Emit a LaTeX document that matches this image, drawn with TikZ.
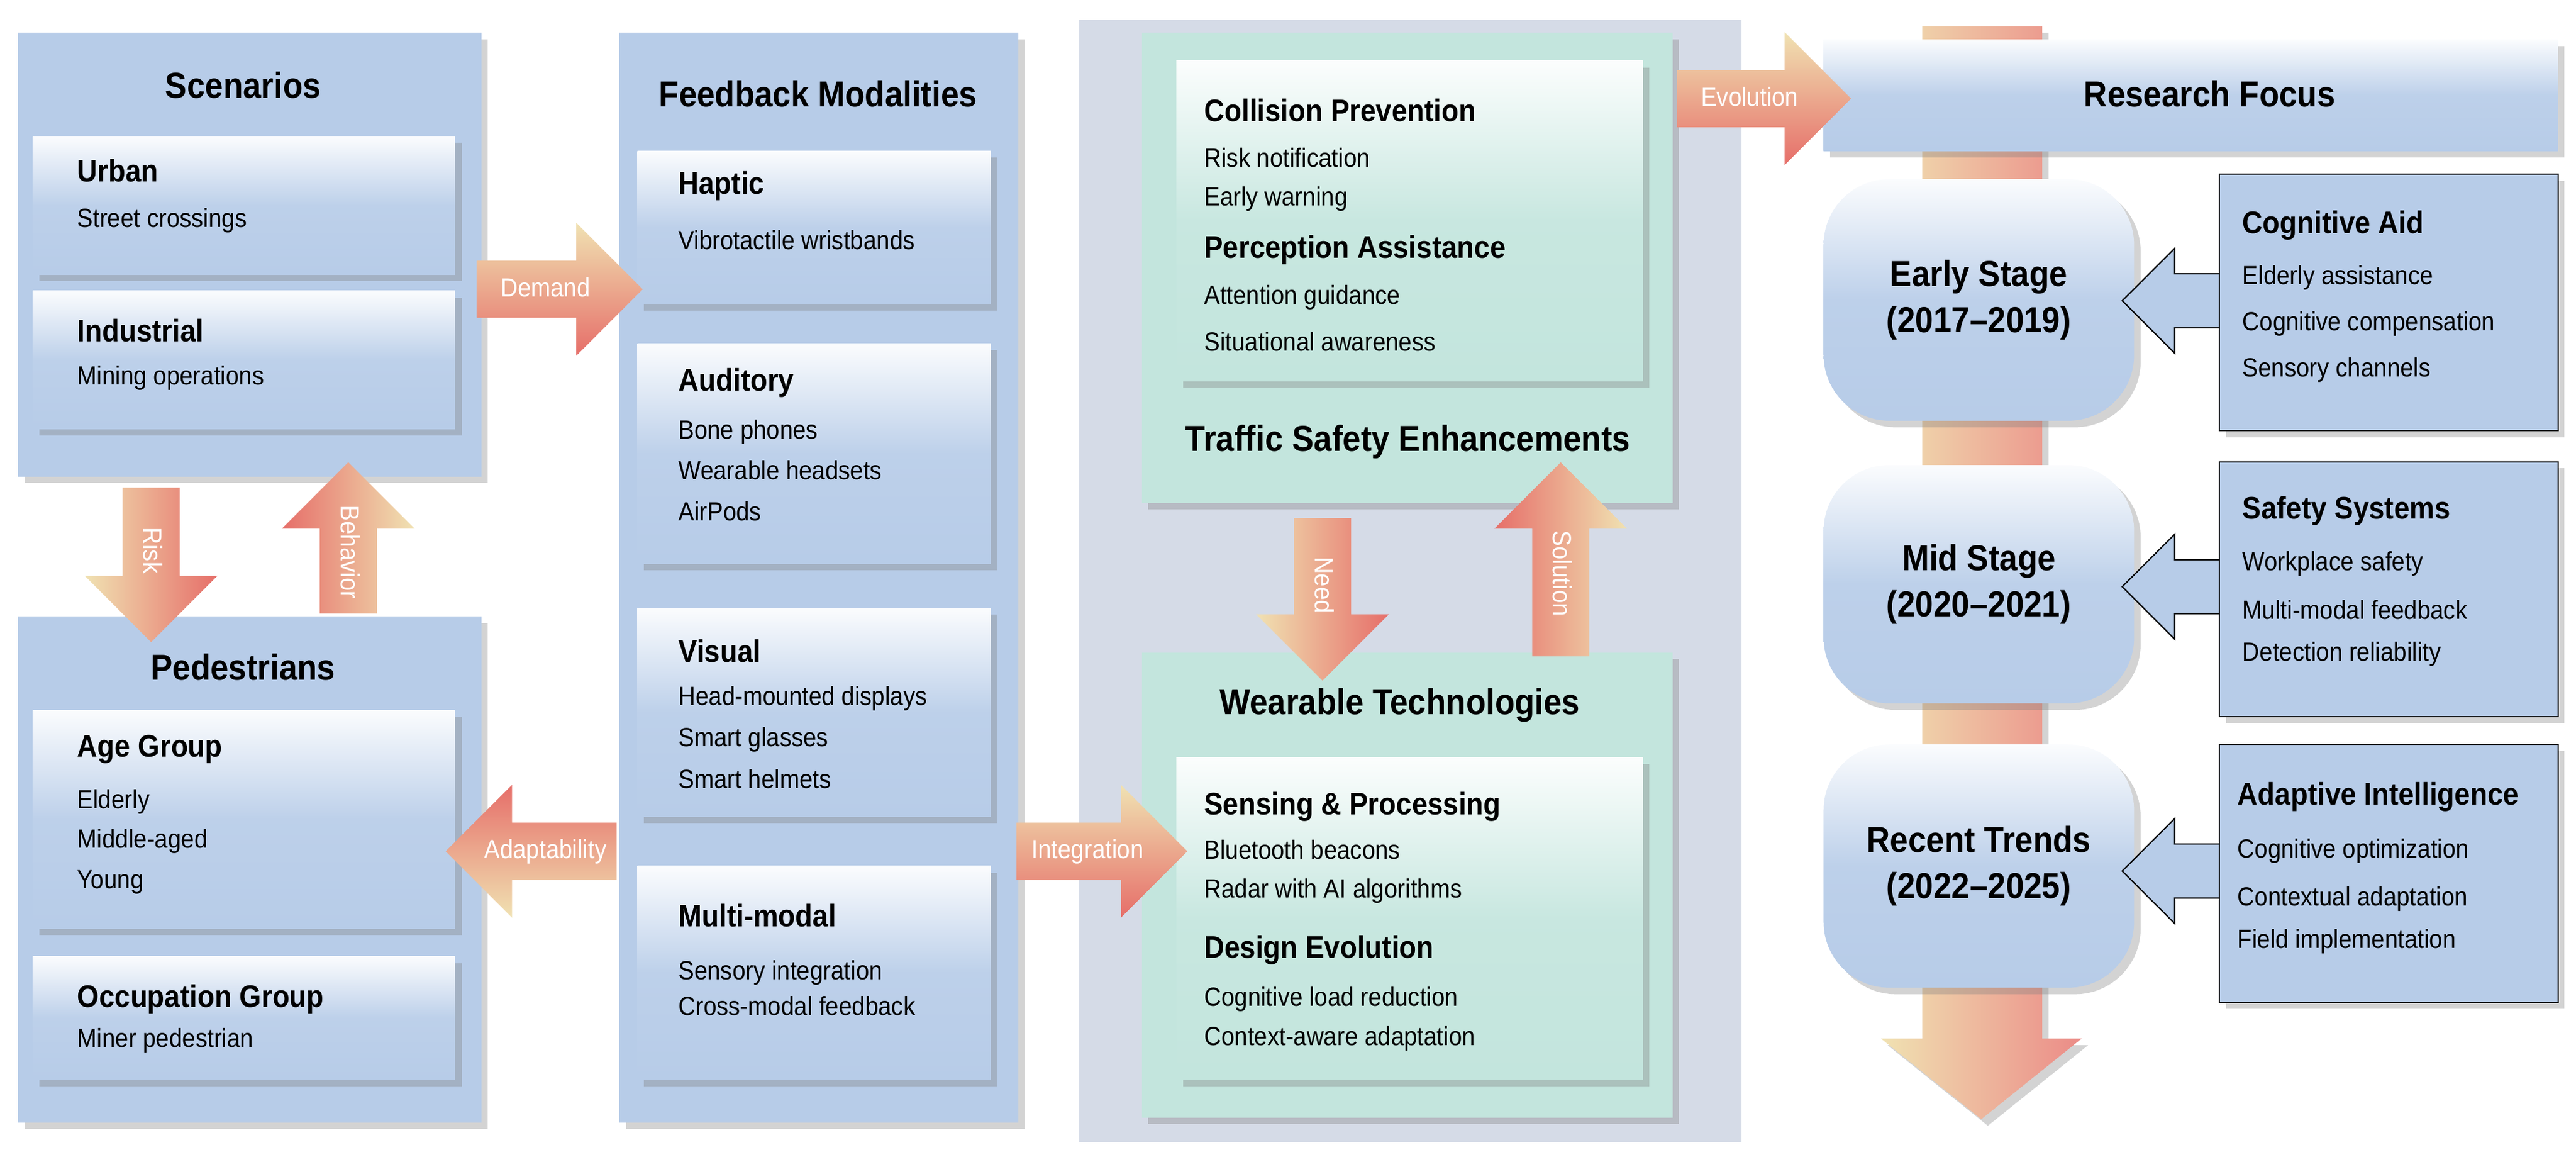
\documentclass[tikz,border=0pt]{standalone}
\usepackage{fontspec}
\setmainfont{Liberation Sans}[FakeStretch=0.9]
\usetikzlibrary{positioning, shapes.arrows, shadows, fit}
\definecolor{boxblue}{RGB}{183, 204, 232}
\definecolor{boxgreen}{RGB}{195, 229, 221}
\definecolor{panelgray}{RGB}{213, 219, 231}
\definecolor{arrowlight}{RGB}{240, 226, 178}
\definecolor{arrowred}{RGB}{230, 110, 105}

\tikzset{
    shade/.style={drop shadow={opacity=.35, shadow xshift=2pt, shadow yshift=-2pt}},
    sec/.style={fill=boxblue, inner sep=0pt, shade},
    gloss/.style={inner sep=0pt, top color=white!94!boxblue, bottom color=boxblue, middle color=boxblue!92!white, shade},
    glossg/.style={inner sep=0pt, top color=white!94!boxgreen, bottom color=boxgreen, middle color=boxgreen!92!white, shade},
    ttl/.style={font=\bfseries\fontsize{11}{13}\selectfont},
    hd/.style={anchor=west, font=\bfseries\fontsize{9.5}{11}\selectfont},
    it/.style={anchor=west, font=\fontsize{8}{10}\selectfont},
    flow/.style={single arrow, single arrow head extend=11.5pt, single arrow tip angle=90,
        text=white, font=\fontsize{8}{10}\selectfont, text height=6pt, text depth=1.5pt,
        inner ysep=4.75pt, inner xsep=2pt},
    fwd/.style={flow, top color=arrowlight, bottom color=arrowred},
    bwd/.style={flow, top color=arrowred, bottom color=arrowlight},
    down/.style={flow, rotate=-90, left color=arrowlight, right color=arrowred},
    up/.style={flow, rotate=-90, shape border rotate=180, left color=arrowred, right color=arrowlight},
    call/.style={single arrow, single arrow head extend=7.75pt, single arrow tip angle=90,
        shape border rotate=180, fill=boxblue, draw=black, thin, minimum height=30pt,
        inner ysep=8pt, inner xsep=0pt, text height=0pt, text depth=0pt},
}

\begin{document}
\begin{tikzpicture}[x=0.5pt, y=-0.5pt]
    \useasboundingbox (0,0) rectangle (1568,707);

    % scenarios and pedestrians
    \node[sec, fit={(11,20)(293,290)}] (scen) {};
    \node[ttl] at (148,52) {Scenarios};
    \node[gloss, fit={(20,83)(277,167)}] (urban) {};
    \node[hd] at (40,104) {Urban};
    \node[it] at (40,134) {Street crossings};
    \node[gloss, fit={(20,177)(277,261)}] (indus) {};
    \node[hd] at (40,201) {Industrial};
    \node[it] at (40,230) {Mining operations};

    \node[sec, fit={(11,375)(293,683)}] (ped) {};
    \node[ttl] at (148,406) {Pedestrians};
    \node[gloss, fit={(20,432)(277,565)}] (age) {};
    \node[hd] at (40,456) {Age Group};
    \node[it] at (40,488) {Elderly};
    \node[it] at (40,512) {Middle-aged};
    \node[it] at (40,537) {Young};
    \node[gloss, fit={(20,582)(277,657)}] (occ) {};
    \node[hd] at (40,608) {Occupation Group};
    \node[it] at (40,633) {Miner pedestrian};

    % feedback modalities
    \node[sec, fit={(377,20)(620,683)}] (feed) {};
    \node[ttl] at (498,57) {Feedback Modalities};
    \node[gloss, fit={(388,92)(603,185)}] (haptic) {};
    \node[hd] at (406,113) {Haptic};
    \node[it] at (406,146) {Vibrotactile wristbands};
    \node[gloss, fit={(388,209)(603,343)}] (audit) {};
    \node[hd] at (406,233) {Auditory};
    \node[it] at (406,263) {Bone phones};
    \node[it] at (406,286) {Wearable headsets};
    \node[it] at (406,311) {AirPods};
    \node[gloss, fit={(388,370)(603,497)}] (visual) {};
    \node[hd] at (406,396) {Visual};
    \node[it] at (406,425) {Head-mounted displays};
    \node[it] at (406,450) {Smart glasses};
    \node[it] at (406,474) {Smart helmets};
    \node[gloss, fit={(388,527)(603,657)}] (multi) {};
    \node[hd] at (406,557) {Multi-modal};
    \node[it] at (406,592) {Sensory integration};
    \node[it] at (406,612) {Cross-modal feedback};

    % safety and wearables
    \fill[panelgray] (657,12) rectangle (1060,695);
    \node[sec, fill=boxgreen, fit={(695,20)(1018,306)}] (safety) {};
    \node[glossg, fit={(716,37)(1000,232)}] (safein) {};
    \node[hd] at (726,67) {Collision Prevention};
    \node[it] at (726,96) {Risk notification};
    \node[it] at (726,121) {Early warning};
    \node[hd] at (726,152) {Perception Assistance};
    \node[it] at (726,181) {Attention guidance};
    \node[it] at (726,208) {Situational awareness};
    \node[ttl] at (857,269) {Traffic Safety Enhancements};

    \node[sec, fill=boxgreen, fit={(695,397)(1018,680)}] (wear) {};
    \node[ttl] at (852,429) {Wearable Technologies};
    \node[glossg, fit={(716,461)(1000,657)}] (wearin) {};
    \node[hd] at (726,491) {Sensing \& Processing};
    \node[it] at (726,517) {Bluetooth beacons};
    \node[it] at (726,542) {Radar with AI algorithms};
    \node[hd] at (726,578) {Design Evolution};
    \node[it] at (726,608) {Cognitive load reduction};
    \node[it] at (726,632) {Context-aware adaptation};

    % research focus timeline
    \shade[left color=arrowlight, right color=arrowred!80]
        (1170,16) -- (1243,16) -- (1243,632) -- (1267,632) -- (1206,681)
        -- (1145,632) -- (1170,632) -- cycle;
    \node[gloss, fit={(1110,24)(1557,92)}] (focus) {};
    \node[ttl] at (1345,57) {Research Focus};
    \foreach \nm/\ya/\yb/\ta/\tb in {early/109/256/Early Stage/(2017--2019),
            mid/283/428/Mid Stage/(2020--2021), recent/453/601/Recent Trends/(2022--2025)} {
        \node[gloss, rounded corners=20pt, fit={(1110,\ya)(1299,\yb)}] (\nm) {};
        \node[ttl, align=center, font=\bfseries\fontsize{11}{14}\selectfont] at (\nm) {\ta\\\tb};
    }

    \node[call] (cogarr) at (1330,183) {};
    \node[call] (safarr) at (1330,357) {};
    \node[call] (adaarr) at (1330,530) {};

    \node[sec, draw=black, thin, fit={(1351,106)(1557,262)}] (cog) {};
    \node[hd] at (1358,137) {Cognitive Aid};
    \node[it] at (1358,169) {Elderly assistance};
    \node[it] at (1358,197) {Cognitive compensation};
    \node[it] at (1358,225) {Sensory channels};
    \node[sec, draw=black, thin, fit={(1351,281)(1557,436)}] (sys) {};
    \node[hd] at (1358,311) {Safety Systems};
    \node[it] at (1358,343) {Workplace safety};
    \node[it] at (1358,371) {Multi-modal feedback};
    \node[it] at (1358,398) {Detection reliability};
    \node[sec, draw=black, thin, fit={(1351,453)(1557,610)}] (adapt) {};
    \node[hd] at (1355,485) {Adaptive Intelligence};
    \node[it] at (1355,518) {Cognitive optimization};
    \node[it] at (1355,547) {Contextual adaptation};
    \node[it] at (1355,573) {Field implementation};

    % flow arrows
    \node[fwd, minimum height=50.5pt] (demand) at (332,176) {Demand};
    \node[down, minimum height=47pt] (risk) at (92,335) {Risk};
    \node[up, minimum height=46pt] (behav) at (212,336) {Behavior};
    \node[bwd, shape border rotate=180, minimum height=52pt] (adaptab) at (332,518) {Adaptability};
    \node[fwd, minimum height=52pt] (integ) at (662,518) {Integration};
    \node[fwd, minimum height=53pt] (evol) at (1065,60) {Evolution};
    \node[down, minimum height=49.5pt] (need) at (805,356) {Need};
    \node[up, minimum height=59pt] (sol) at (950,349) {Solution};
\end{tikzpicture}
\end{document}
